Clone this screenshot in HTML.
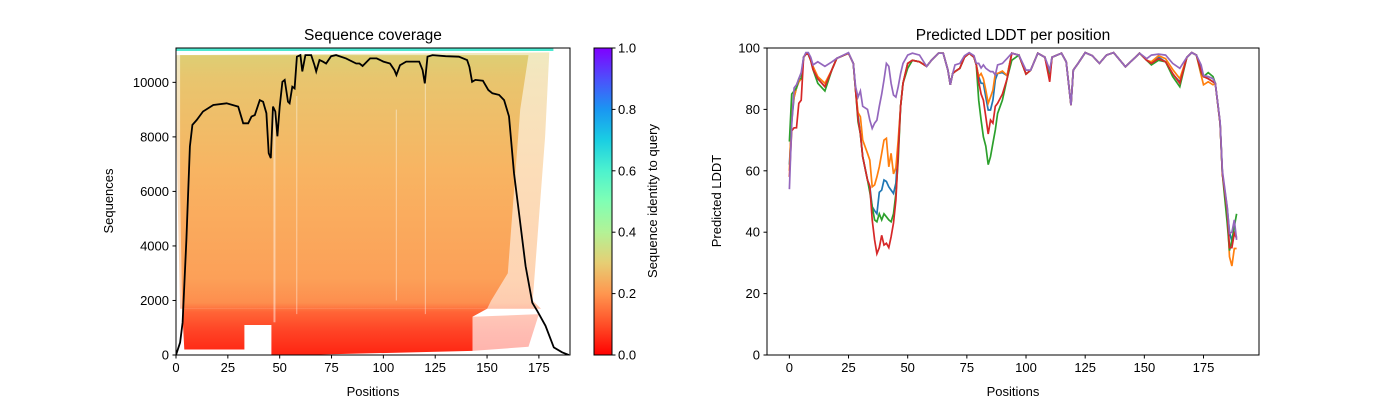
<!DOCTYPE html>
<html><head><meta charset="utf-8"><style>
html,body{margin:0;padding:0;background:#fff;}
svg{display:block;font-family:"Liberation Sans","DejaVu Sans",sans-serif;}
</style></head><body>
<svg id="fig" width="1400" height="400" viewBox="0 0 1400 400" xmlns="http://www.w3.org/2000/svg">
<defs>
<linearGradient id="heatGrad" x1="0" y1="48" x2="0" y2="355" gradientUnits="userSpaceOnUse">
<stop offset="0" stop-color="#4df2ce"/>
<stop offset="0.015" stop-color="#dccf74"/>
<stop offset="0.1" stop-color="#e8c56e"/>
<stop offset="0.4" stop-color="#f8b462"/>
<stop offset="0.75" stop-color="#fca058"/>
<stop offset="0.83" stop-color="#fd8e4e"/>
<stop offset="0.86" stop-color="#ff6536"/>
<stop offset="0.92" stop-color="#ff4426"/>
<stop offset="1" stop-color="#ff2412"/>
</linearGradient>
<linearGradient id="cbGrad" x1="0" y1="1" x2="0" y2="0">
<stop offset="0" stop-color="#ff0000"/>
<stop offset="0.1" stop-color="#ff4f28"/>
<stop offset="0.2" stop-color="#ff964f"/>
<stop offset="0.3" stop-color="#e6ce74"/>
<stop offset="0.4" stop-color="#b3f296"/>
<stop offset="0.5" stop-color="#80ffb4"/>
<stop offset="0.6" stop-color="#4df2ce"/>
<stop offset="0.7" stop-color="#1acee3"/>
<stop offset="0.8" stop-color="#1a96f2"/>
<stop offset="0.9" stop-color="#4d4ffc"/>
<stop offset="1" stop-color="#8000ff"/>
</linearGradient>
<clipPath id="clipL"><rect x="176" y="48" width="394" height="307"/></clipPath>
<clipPath id="clipR"><rect x="767" y="48" width="492" height="307"/></clipPath>
</defs>
<g id="left"></g>
<g id="cbar"></g>
<g id="right"></g>
</svg>
<script>
// ---- coverage data ----
const covPos = [0,2,3.2,5,6.7,7.9,10,13,18,24.4,30,32.4,34.8,36.4,38,40.4,42,43.6,44.7,45.7,46.8,47.9,48.9,50,51.3,52.4,54,54.8,56.1,57.2,58.3,60,60.9,62.4,65.2,66.8,67.6,69.2,70.8,72.4,74.8,77.2,82,86.9,88.5,90,93.6,96.8,100,103.2,105.3,106.3,108,111,114.7,117.3,118.9,120,121.3,123.7,130,136.4,140.4,141.5,142.8,144.4,148,150.6,152.6,155.8,158.2,160.6,163,165.4,168.6,171.8,174.2,178.2,182.2,186.2,189.4];
const covVal = [0,460,1190,4240,7650,8440,8620,8930,9170,9230,9110,8500,8500,8745,8800,9350,9290,8870,7400,7220,9110,8930,8020,9110,10020,10090,9290,9230,9840,9780,10940,11000,10400,11000,11000,10630,10400,10820,10760,10690,10960,11000,10880,10690,10690,10600,10880,10880,10760,10690,10450,10270,10630,10760,10760,10760,10450,9960,10940,11000,10960,10940,10820,10570,10020,10090,10060,9720,9600,9540,9350,8750,6670,5210,3260,1920,1620,1070,280,100,0];
const covXTicks = [0,25,50,75,100,125,150,175];
const covYTicks = [0,2000,4000,6000,8000,10000];
const cbTicks = [0.0,0.2,0.4,0.6,0.8,1.0];
// ---- LDDT data ----
const lddtPos = [0,1,2,3,4,5,6,7,8,9,10,12,15,18,20,25,27,28,29,30,31,33,34,35,36,37,38,39,40,41,42,43,44,45,46,47,48,50,52,55,58,60,63,65,67,68,69,70,72,74,76,78,79,80,81,82,83,84,85,86,87,88,90,92,94,97,100,102,105,108,110,111,115,117,119,120,122,125,128,131,134,137,142,148,151,153,156,159,162,165,168,170,172,174,175,177,179,180,182,183,185,186,187,188,189];
const lddtBlue = [62,76,84,87,89,90,97,98,98,96, 94,90,87.4,93,96.6,98.3,95,86.3,78,72, 64.6,57,55,48.3,47,46,53,53.7,57,56.5, 54.8,53.7,52.6,56,68,81,88.5,95,96,95.5, 94,96,98.3,98.3,92.8,88,91.7,92.3,93.4,97, 98.3,97,94.5,90.7,88.5,88.5,84,79.8,79.8,83, 89.6,91.7,92,91,98.3,97.7,91.5,92.8,98.3,97, 90.5,97,98.3,95.5,81.4,92.8,95,98.5,97.5,95, 97.7,98.5,93.9,98.3,96,95.2,97,95.5,91.5,89, 97,98.5,97.7,93,91,90,89,88.5,75.5,59, 48,40,37,40,38.5];
const lddtOrange = [60,79,84,87,89,90,97,98,98,96, 94,90.7,88.5,93,96.6,98.3,95,86.3,79,77.6, 70,65.7,63.5,54.8,55.4,58,61.3,65.7,70,70.6, 61.3,65.7,59,61,70,81,88.5,95,96,95.5, 94,96,98.3,98.3,92.8,88,91.7,92.3,93.4,97, 98.3,97,94.5,90.7,91.7,90,86.3,82,84,86.3, 91.7,91.7,92.5,91,98.3,97.7,91.5,92.8,98.3,97, 90.7,97,98.3,95.5,81.4,92.8,95,98.5,97.5,95, 97.7,98.5,93.9,98.3,96,95.5,97.5,96.5,93,90, 97,98.5,97.7,91.2,88,89,88,88.5,75.5,59, 47,32,29,34.7,34.7];
const lddtGreen = [69.5,85,86,87,90,90,97,98,98,96, 93,88.5,86,93,96.6,98.3,95,86.3,76,72, 64.6,57,53,48.3,44,43.4,46,44,46,45, 44,43.4,46,52.6,63.5,81,88.5,93.4,96,95.5, 94,96,98.3,98.3,92.8,88,91.7,92.3,93.4,97, 98.3,97,94.5,83,76.5,71,68,62,64.6,69, 73.3,78.7,83,90,96,97.7,91.5,92.8,98.3,97, 91.5,97,98.3,95.5,81.4,92.8,95,98.5,97.5,95, 97.7,98.5,93.9,98.3,96,94.5,96,95.5,90.7,87.4, 97,98.5,97.7,92,90.7,92,90.7,88.5,75.5,59, 43,34,37.5,41.8,46];
const lddtRed = [58,73,74,74,82,83,97,98,98,96, 93,90,87.4,93,96.6,98.3,95,86.3,77,72, 64.6,57,55,44,37.5,33,35,39,35.8,36.4, 35,38.5,43,50.5,65.7,81,88.5,95,96,95.5, 94,96,98.3,98.3,92.8,88,91.7,92.3,93.4,97, 98.3,97,94.5,89,85,83,77.6,72,76.5,75.5, 81,82,85,90,98.3,97.7,91.5,92.8,98.3,97, 89,97,98.3,95.5,81.4,92.8,95,98.5,97.5,95, 97.7,98.5,93.9,98.3,96,95,96.5,95.5,91.7,88.5, 97,98.5,97.7,92.3,90.7,90,89,88.5,75.5,59, 47,35,35,39.6,38];
const lddtPurple = [54,75,87,88,90,92,97,98.5,98.5,97, 94.5,95.5,94,95.5,96.6,98.5,95,87.4,84,86, 81,80,76.5,73.8,75.5,76.5,81,85,89.6,95, 94,88.5,84.7,84,87.4,91.7,95,97.7,98.3,97.7, 94,96,98.3,98.3,92.8,88,91.7,94.5,95,97.5, 98.5,97.5,95,95,93.5,94.5,93.4,92.8,92.3,92.3, 91.2,94.5,95,96.6,98.3,97.7,92.8,92.8,98.3,97, 92.8,97,98.3,95.5,81.4,92.8,95,98.5,97.5,95, 97.7,98.5,93.9,98.3,96.5,97.7,98,97.7,95,93.4, 97,98.5,97.7,94.5,91,90.7,90,88.5,76,60, 48.3,39.6,40,44,37.5];
const lddtXTicks = [0,25,50,75,100,125,150,175];
const lddtYTicks = [0,20,40,60,80,100];

const NS="http://www.w3.org/2000/svg";
function mk(parent, tag, attrs, text){
  const e=document.createElementNS(NS,tag);
  for(const k in attrs) e.setAttribute(k,attrs[k]);
  if(text!==undefined) e.textContent=text;
  parent.appendChild(e); return e;
}
const Lx = v => 176 + v*(394/190);
const Ly = v => 355 - v*(307/11260);
const Rx = v => 767 + (v+9.45)*(492/207.9);
const Ry = v => 355 - v*3.07;

// ---- left chart ----
const L=document.getElementById('left');
const heat=mk(L,'g',{'clip-path':'url(#clipL)'});


function poly(g,pts,fill,op,name){
  const p=mk(g,'polygon',{points:pts.map(q=>Lx(q[0]).toFixed(1)+','+Ly(q[1]).toFixed(1)).join(' '),fill:fill,'fill-opacity':op});
  
  
}
poly(heat,[[0,11000],[180,11100],[178,8000],[175,5000],[172,2000],[176,1700],[150,1700],[2,1700],[1,5000],[0,9000]],'url(#heatGrad)',0.45,'heatmap-fringe');
poly(heat,[[2,11000],[170,11000],[166,9000],[163,6000],[160,3000],[152,2000],[150,1700],[3,1700],[2,6000]],'url(#heatGrad)',1,'heatmap-dense');
poly(heat,[[3,1700],[150,1700],[143,1400],[143,150],[60,0],[46,0],[46,1100],[33,1100],[33,200],[4,200]],'url(#heatGrad)',1,'heatmap-low-identity');
poly(heat,[[143,1400],[175,1500],[170,300],[143,150]],'url(#heatGrad)',0.35,'heatmap-low-fringe');
const queryRow=mk(heat,'rect',{x:Lx(0),y:48,width:Lx(182)-Lx(0),height:3,fill:'#4de8d0'});


[[47,1200,9000,2],[58,1500,9500,1],[120,1500,10000,1],[106,2000,9000,1]].forEach(s=>{
  const r=mk(heat,'rect',{x:Lx(s[0]),y:Ly(s[2]),width:s[3],height:Ly(s[1])-Ly(s[2]),fill:'#fff','fill-opacity':0.45});
  
  
});
const covLine=mk(L,'path',{d:covPos.map((p,i)=>(i?'L':'M')+Lx(p).toFixed(1)+','+Ly(covVal[i]).toFixed(1)).join(''),fill:'none',stroke:'#000','stroke-width':1.8,'clip-path':'url(#clipL)'});


const lf=mk(L,'rect',{x:176,y:48,width:394,height:307,fill:'none',stroke:'#000','stroke-width':1});


covXTicks.forEach(t=>{
  mk(L,'line',{x1:Lx(t),x2:Lx(t),y1:355,y2:358.5,stroke:'#000'});
  const tx=mk(L,'text',{x:Lx(t),y:372,'font-size':13,'text-anchor':'middle'},String(t));
  
  
});
covYTicks.forEach(t=>{
  mk(L,'line',{x1:172.5,x2:176,y1:Ly(t),y2:Ly(t),stroke:'#000'});
  const tx=mk(L,'text',{x:169,y:Ly(t)+4.5,'font-size':13,'text-anchor':'end'},String(t));
  
  
});
let t1=mk(L,'text',{x:373,y:40,'font-size':15.5,'text-anchor':'middle'},'Sequence coverage');


let t2=mk(L,'text',{x:373,y:396,'font-size':13,'text-anchor':'middle'},'Positions');


let t3=mk(L,'text',{x:113,y:201,'font-size':13,'text-anchor':'middle',transform:'rotate(-90 113 201)'},'Sequences');



// ---- colorbar ----
const C=document.getElementById('cbar');
let cb=mk(C,'rect',{x:594,y:48,width:18,height:307,fill:'url(#cbGrad)',stroke:'#000','stroke-width':1});


cbTicks.forEach(t=>{
  const y=355-t*307;
  mk(C,'line',{x1:612,x2:615.5,y1:y,y2:y,stroke:'#000'});
  const tx=mk(C,'text',{x:618,y:y+4.5,'font-size':13},t.toFixed(1));
  
  
});
let t4=mk(C,'text',{x:657,y:201,'font-size':13,'text-anchor':'middle',transform:'rotate(-90 657 201)'},'Sequence identity to query');



// ---- right chart ----
const R=document.getElementById('right');
const series=[['lddt-line-1',lddtBlue,'#1f77b4'],['lddt-line-2',lddtOrange,'#ff7f0e'],['lddt-line-3',lddtGreen,'#2ca02c'],['lddt-line-4',lddtRed,'#d62728'],['lddt-line-5',lddtPurple,'#9467bd']];
series.forEach(s=>{
  const p=mk(R,'path',{d:lddtPos.map((x,i)=>(i?'L':'M')+Rx(x).toFixed(1)+','+Ry(s[1][i]).toFixed(1)).join(''),fill:'none',stroke:s[2],'stroke-width':1.7,'clip-path':'url(#clipR)'});
  
  
});
const rf=mk(R,'rect',{x:767,y:48,width:492,height:307,fill:'none',stroke:'#000','stroke-width':1});


lddtXTicks.forEach(t=>{
  mk(R,'line',{x1:Rx(t),x2:Rx(t),y1:355,y2:358.5,stroke:'#000'});
  const tx=mk(R,'text',{x:Rx(t),y:372,'font-size':13,'text-anchor':'middle'},String(t));
  
  
});
lddtYTicks.forEach(t=>{
  mk(R,'line',{x1:763.5,x2:767,y1:Ry(t),y2:Ry(t),stroke:'#000'});
  const tx=mk(R,'text',{x:760,y:Ry(t)+4.5,'font-size':13,'text-anchor':'end'},String(t));
  
  
});
let t5=mk(R,'text',{x:1013,y:40,'font-size':15.5,'text-anchor':'middle'},'Predicted LDDT per position');


let t6=mk(R,'text',{x:1013,y:396,'font-size':13,'text-anchor':'middle'},'Positions');


let t7=mk(R,'text',{x:721,y:201,'font-size':13,'text-anchor':'middle',transform:'rotate(-90 721 201)'},'Predicted LDDT');


</script>
</body></html>
